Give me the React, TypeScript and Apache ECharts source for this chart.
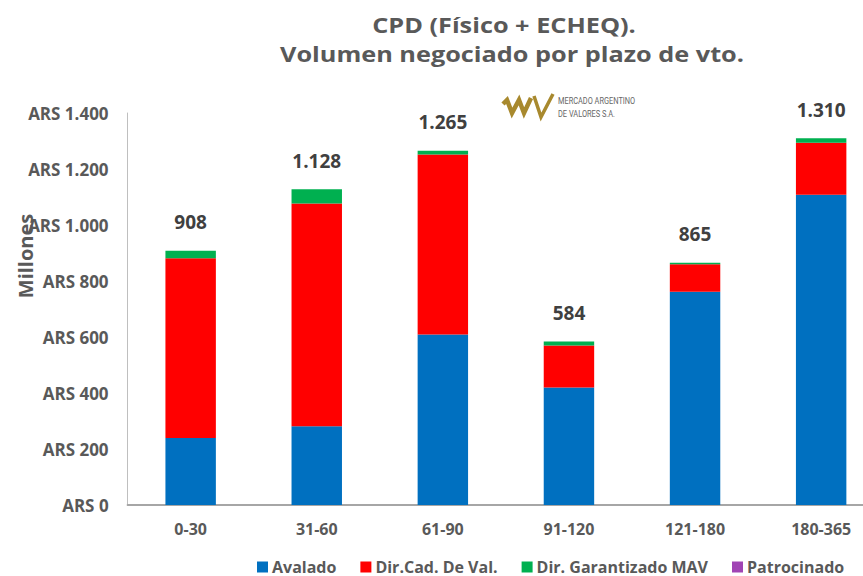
import React, { useEffect, useRef } from "react";
import * as echarts from "echarts";

const categories = ["0-30", "31-60", "61-90", "91-120", "121-180", "180-365"];
const avalado = [239, 281, 609, 420, 762, 1108];
const dirCad = [642, 796, 643, 150, 98, 186];
const dirGarantizado = [27, 51, 13, 14, 5, 16];
const patrocinado = [0, 0, 0, 0, 0, 0];
const seriesNames = ["Avalado", "Dir.Cad. De Val.", "Dir. Garantizado MAV", "Patrocinado"];
const titleLines = ["CPD (Físico + ECHEQ).", "Volumen negociado por plazo de vto."];

const FONT = "'Open Sans', Lato, sans-serif";
const TXT = "#595959";

const fmt = (n: number) => String(n).replace(/\B(?=(\d{3})+(?!\d))/g, ".");

export default function App() {
  const ref = useRef<HTMLDivElement>(null);
  useEffect(() => {
    if (!ref.current) return;
    const chart = echarts.init(ref.current, undefined, { renderer: "svg" });
    const totals = categories.map((_, i) => avalado[i] + dirCad[i] + dirGarantizado[i] + patrocinado[i]);
    const colors = ["#0070c0", "#ff0000", "#00b050", "#a044b4"];
    const datas = [avalado, dirCad, dirGarantizado, patrocinado];
    const gold = "#a8892e";
    const logoFont = "Roboto, sans-serif";
    chart.setOption({
      animation: false,
      textStyle: { fontFamily: FONT },
      legend: {
        data: seriesNames,
        left: 252,
        top: 554,
        itemWidth: 11,
        itemHeight: 11,
        itemGap: 24,
        icon: "rect",
        textStyle: { fontFamily: FONT, fontSize: 16, fontWeight: "bold", color: TXT, padding: [0, 0, 0, -1] },
      },
      grid: { left: 127.6, width: 756.6, top: 113, bottom: 71, outerBoundsMode: "none", containLabel: false },
      xAxis: {
        type: "category",
        data: categories,
        axisLine: { lineStyle: { color: "#a6a6a6", width: 2 } },
        axisTick: { show: false },
        axisLabel: { fontFamily: FONT, fontSize: 16, fontWeight: "bold", color: TXT, margin: 16 },
      },
      yAxis: {
        type: "value",
        min: 0,
        max: 1400,
        interval: 200,
        splitLine: { show: false },
        axisLine: { show: true, lineStyle: { color: "#bfbfbf", width: 1 } },
        axisTick: { show: false },
        axisLabel: {
          fontFamily: FONT,
          fontSize: 17,
          fontWeight: "bold",
          color: TXT,
          margin: 19,
          formatter: (v: number) => "ARS " + fmt(v),
        },
      },
      graphic: [
        {
          type: "text",
          x: 504,
          y: 25,
          scaleX: 1.15,
          style: {
            text: titleLines[0],
            fontFamily: FONT,
            fontSize: 22,
            fontWeight: "bold",
            fill: TXT,
            textAlign: "center",
            textVerticalAlign: "middle",
          },
        },
        {
          type: "text",
          x: 512,
          y: 54,
          scaleX: 1.15,
          style: {
            text: titleLines[1],
            fontFamily: FONT,
            fontSize: 22,
            fontWeight: "bold",
            fill: TXT,
            textAlign: "center",
            textVerticalAlign: "middle",
          },
        },
        {
          type: "text",
          x: 25,
          y: 256,
          rotation: Math.PI / 2,
          style: {
            text: "Millones",
            fontFamily: FONT,
            fontSize: 20,
            fontWeight: "bold",
            fill: TXT,
            textAlign: "center",
            textVerticalAlign: "middle",
          },
        },
        {
          type: "polyline",
          shape: { points: [[503, 104], [507, 100], [512, 113], [519, 100], [524, 113], [531, 98]] },
          style: { stroke: gold, lineWidth: 4.5, fill: "none", lineJoin: "miter" },
        },
        {
          type: "polyline",
          shape: { points: [[534, 96], [541, 117], [553, 94]] },
          style: { stroke: gold, lineWidth: 3.5, fill: "none", lineJoin: "miter" },
        },
        {
          type: "text",
          x: 558,
          y: 101,
          scaleX: 0.78,
          style: {
            text: "MERCADO ARGENTINO",
            fontFamily: logoFont,
            fontSize: 9.5,
            fill: "#666666",
            textVerticalAlign: "middle",
          },
        },
        {
          type: "text",
          x: 558,
          y: 114,
          scaleX: 0.78,
          style: {
            text: "DE VALORES S.A.",
            fontFamily: logoFont,
            fontSize: 9.5,
            fill: "#666666",
            textVerticalAlign: "middle",
          },
        },
      ],
      series: seriesNames.map((name, k) => ({
        name,
        type: "bar",
        stack: "total",
        barWidth: "40%",
        data: datas[k],
        itemStyle: { color: colors[k] },
        label:
          k === 3
            ? {
                show: true,
                position: "top",
                distance: 19,
                formatter: (p: any) => fmt(totals[p.dataIndex]),
                fontFamily: FONT,
                fontSize: 19,
                fontWeight: "bold",
                color: "#404040",
              }
            : { show: false },
      })),
    });
    return () => chart.dispose();
  }, []);
  return (
    <div
      ref={ref}
      style={{ position: "absolute", left: 0, top: 0, width: 863, height: 576, overflow: "hidden" }}
    />
  );
}
